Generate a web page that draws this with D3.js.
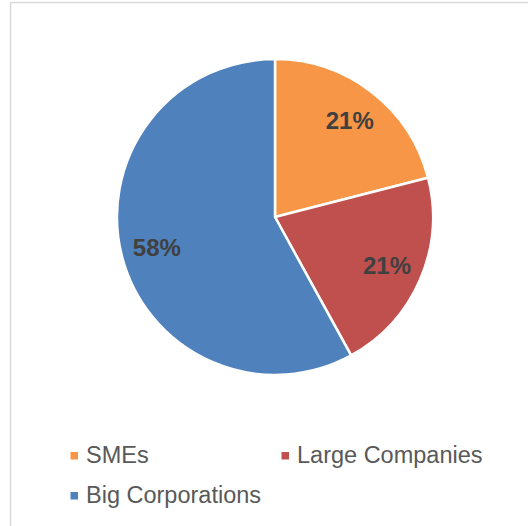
<!DOCTYPE html>
<html>
<head>
<meta charset="utf-8">
<script src="https://cdn.jsdelivr.net/npm/d3@7"></script>
<style>
  html, body { margin: 0; padding: 0; background: #ffffff; }
  svg { display: block; }
</style>
</head>
<body>
<svg id="chart" width="528" height="526"></svg>
<script>
const categories = ["SMEs", "Large Companies", "Big Corporations"];
const values = [21, 21, 58];
const labels = ["21%", "21%", "58%"];
const colors = ["#F79646", "#C0504D", "#4F81BD"];

const svg = d3.select("#chart");
const W = 528, H = 526;

// chart area border (only top and left visible)
svg.append("rect")
  .attr("x", 10.5).attr("y", 2.5)
  .attr("width", 600).attr("height", 600)
  .attr("fill", "#ffffff")
  .attr("stroke", "#d9d9d9")
  .attr("stroke-width", 1.5);

const cx = 275, cy = 217, R = 158;

const pie = d3.pie().sort(null).value(d => d)(values);
const arc = d3.arc().innerRadius(0).outerRadius(R);
const labelArc = d3.arc().innerRadius(122).outerRadius(122);

const g = svg.append("g").attr("transform", `translate(${cx},${cy})`);

g.selectAll("path.slice")
  .data(pie)
  .enter().append("path")
  .attr("class", "slice")
  .attr("d", arc)
  .attr("fill", (d, i) => colors[i])
  .attr("stroke", "#ffffff")
  .attr("stroke-width", 2.5)
  .attr("stroke-linejoin", "round");

g.selectAll("text.lbl")
  .data(pie)
  .enter().append("text")
  .attr("class", "lbl")
  .attr("transform", d => {
    const c = labelArc.centroid(d);
    return `translate(${c[0]},${c[1]})`;
  })
  .attr("text-anchor", "middle")
  .attr("dy", "0.35em")
  .attr("font-family", "Liberation Sans, Arial, sans-serif")
  .attr("font-weight", "bold")
  .attr("font-size", "24px")
  .attr("fill", "#404040")
  .text((d, i) => labels[i]);

// legend
const legendPos = [
  { x: 70.5, y: 463 },
  { x: 281.5, y: 463 },
  { x: 70.5, y: 503 }
];
const leg = svg.append("g");
categories.forEach((c, i) => {
  const p = legendPos[i];
  leg.append("rect")
    .attr("x", p.x).attr("y", p.y - 11)
    .attr("width", 7.5).attr("height", 7.5)
    .attr("fill", colors[i]);
  leg.append("text")
    .attr("x", p.x + 15.5).attr("y", p.y)
    .attr("font-family", "Liberation Sans, Arial, sans-serif")
    .attr("font-size", "23.5px")
    .attr("fill", "#595959")
    .text(c);
});
</script>
</body>
</html>
